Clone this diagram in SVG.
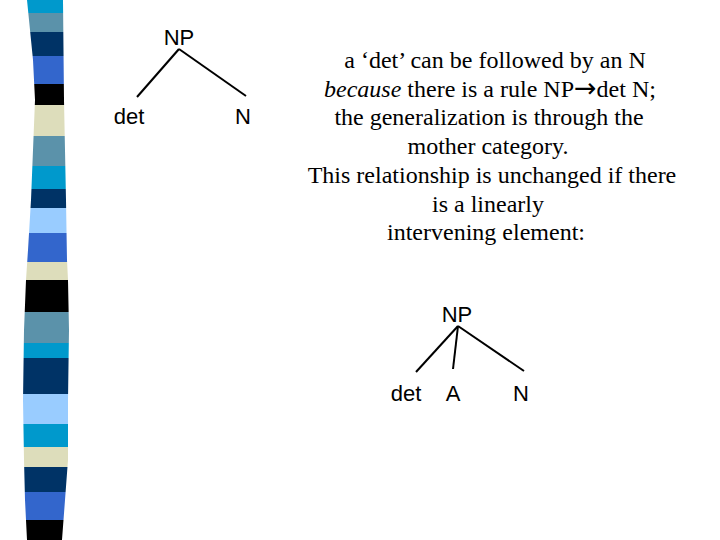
<svg xmlns="http://www.w3.org/2000/svg" width="720" height="540" viewBox="0 0 720 540">
<defs>
<style>
.t{font-family:"Liberation Sans",Arial,sans-serif;font-size:22px;fill:#000;text-anchor:middle}
.p{font-family:"Liberation Serif","Times New Roman",serif;font-size:24px;fill:#000;text-anchor:middle}
.e{stroke:#000;stroke-width:2;fill:none}
</style>
<clipPath id="bar">
<path d="M27,0 L63,0 L64,100 L66,200 L67,260 L68,280 L69,330 L68,400 L68,460 L65,500 L62,540 L27,540 L25,500 L24,460 L23,400 L24,330 L26,280 L28,250 L31,200 L33,150 L35,100 L33,60 L29,20 Z"/>
</clipPath>
</defs>
<rect width="720" height="540" fill="#fff"/>
<g id="stripe-bar" clip-path="url(#bar)">
<rect x="0" y="0" width="80" height="13" fill="#0099cc"/>
<rect x="0" y="13" width="80" height="19" fill="#5b92aa"/>
<rect x="0" y="32" width="80" height="24" fill="#003366"/>
<rect x="0" y="56" width="80" height="28" fill="#3366cc"/>
<rect x="0" y="84" width="80" height="21" fill="#000"/>
<rect x="0" y="105" width="80" height="31" fill="#ddddbb"/>
<rect x="0" y="136" width="80" height="30" fill="#5b92aa"/>
<rect x="0" y="166" width="80" height="23" fill="#0099cc"/>
<rect x="0" y="189" width="80" height="19" fill="#003366"/>
<rect x="0" y="208" width="80" height="25" fill="#99ccff"/>
<rect x="0" y="233" width="80" height="29" fill="#3366cc"/>
<rect x="0" y="262" width="80" height="18" fill="#ddddbb"/>
<rect x="0" y="280" width="80" height="32" fill="#000"/>
<rect x="0" y="312" width="80" height="31" fill="#5b92aa"/>
<rect x="0" y="343" width="80" height="15" fill="#0099cc"/>
<rect x="0" y="358" width="80" height="36" fill="#003366"/>
<rect x="0" y="394" width="80" height="30" fill="#99ccff"/>
<rect x="0" y="424" width="80" height="23" fill="#0099cc"/>
<rect x="0" y="447" width="80" height="20" fill="#ddddbb"/>
<rect x="0" y="467" width="80" height="25" fill="#003366"/>
<rect x="0" y="492" width="80" height="28" fill="#3366cc"/>
<rect x="0" y="520" width="80" height="20" fill="#000"/>
</g>
<g id="connectors">
<line class="e" x1="179" y1="49" x2="137" y2="97"/>
<line class="e" x1="179" y1="49" x2="246" y2="96"/>
<line class="e" x1="458" y1="326" x2="416" y2="372"/>
<line class="e" x1="458" y1="326" x2="453" y2="369"/>
<line class="e" x1="458" y1="326" x2="524" y2="371"/>
</g>
<g id="t1-np"><text class="t" x="179" y="45">NP</text></g>
<g id="t1-det"><text class="t" x="129" y="124">det</text></g>
<g id="t1-n"><text class="t" x="243" y="124">N</text></g>
<g id="t2-np"><text class="t" x="457" y="322">NP</text></g>
<g id="t2-det"><text class="t" x="406" y="401">det</text></g>
<g id="t2-a"><text class="t" x="453" y="401">A</text></g>
<g id="t2-n"><text class="t" x="521" y="401">N</text></g>
<g id="explanation">
<text class="p" x="495" y="68">a ‘det’ can be followed by an N</text>
<text class="p" x="490" y="97"><tspan font-style="italic">because</tspan> there is a rule NP<tspan font-family="DejaVu Sans, sans-serif" font-size="27">→</tspan>det N;</text>
<text class="p" x="489" y="125">the generalization is through the</text>
<text class="p" x="488" y="154">mother category.</text>
<text class="p" x="492" y="183">This relationship is unchanged if there</text>
<text class="p" x="488" y="212">is a linearly</text>
<text class="p" x="486" y="240">intervening element:</text>
</g>
</svg>
